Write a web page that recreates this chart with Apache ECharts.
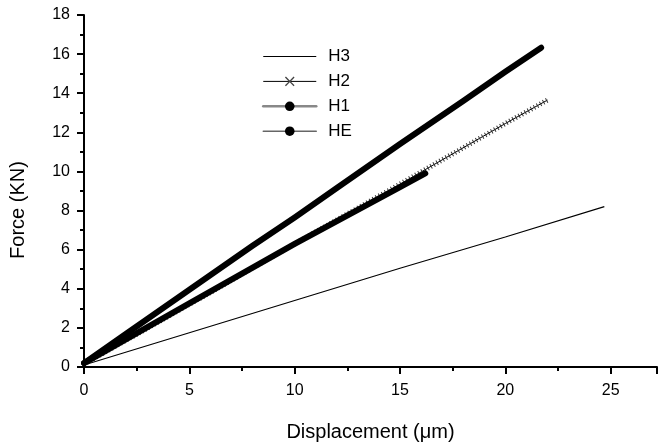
<!DOCTYPE html>
<html>
<head>
<meta charset="utf-8">
<script src="https://cdn.jsdelivr.net/npm/echarts@6/dist/echarts.min.js"></script>
<style>html,body{margin:0;padding:0;background:#fff}#c{width:658px;height:447px}</style>
</head>
<body>
<div id="c"></div>
<script>
// Values: [displacement (µm), force (KN)]
const seriesNames = ['H3', 'H2', 'H1', 'HE'];
const h3 = [[0, 0.1], [5, 1.75], [10, 3.4], [15, 5.05], [20, 6.65], [24.7, 8.2]];
const h2 = [[0, 0.15], [5, 3.2], [10, 6.3], [15, 9.35], [20, 12.45], [22, 13.65]];
const h1 = [[0, 0.2], [2, 1.7], [5, 3.95], [8, 6.2], [10, 7.65], [12, 9.15], [15, 11.4], [18, 13.6], [20, 15.1], [21.7, 16.33]];
const he = [[0, 0.2], [5, 3.25], [10, 6.3], [15, 9.2], [16.2, 9.9]];
const xTicks = [0, 5, 10, 15, 20, 25];
const yTicks = [0, 2, 4, 6, 8, 10, 12, 14, 16, 18];

const FONT = '"Liberation Sans", Arial, sans-serif';
const crossPath = 'path://M0,1L1,0L5,4L9,0L10,1L6,5L10,9L9,10L5,6L1,10L0,9L4,5Z';

const chart = echarts.init(document.getElementById('c'), null, {renderer: 'canvas'});
chart.setOption({
  animation: false,
  backgroundColor: '#fff',
  grid: {left: 84, right: 1, top: 15, bottom: 78, containLabel: false},
  legend: {
    orient: 'vertical',
    left: 262,
    top: 48,
    padding: 0,
    itemWidth: 53,
    itemHeight: 12,
    itemGap: 7.9,
    textStyle: {fontFamily: FONT, fontSize: 17, color: '#000', padding: [0, 0, 0, 7]},
    data: [
      {name: 'H3', itemStyle: {color: 'rgba(0,0,0,0)', borderWidth: 0, opacity: 0}, lineStyle: {color: '#000', width: 1}},
      {name: 'H2', lineStyle: {color: '#000', width: 1}, itemStyle: {color: '#444'}},
      {name: 'H1', lineStyle: {color: '#888', width: 2.5}},
      {name: 'HE', lineStyle: {color: '#666', width: 1.5}}
    ]
  },
  xAxis: {
    type: 'value',
    min: 0,
    max: 27.2,
    interval: 5,
    name: 'Displacement (\u03bcm)',
    nameLocation: 'middle',
    nameGap: 55,
    nameTextStyle: {fontFamily: FONT, fontSize: 20, color: '#000'},
    axisLine: {onZero: false, lineStyle: {color: '#000', width: 2}},
    axisTick: {inside: false, length: 7, lineStyle: {color: '#000', width: 2}},
    minorTick: {show: true, splitNumber: 2, length: 4, lineStyle: {color: '#000', width: 2}},
    splitLine: {show: false},
    axisLabel: {fontFamily: FONT, fontSize: 16, color: '#000', margin: 16, showMaxLabel: false,
      formatter: v => xTicks.includes(v) ? String(v) : ''}
  },
  yAxis: {
    type: 'value',
    min: 0,
    max: 18,
    interval: 2,
    name: 'Force (KN)',
    nameLocation: 'middle',
    nameGap: 56,
    nameTextStyle: {fontFamily: FONT, fontSize: 20, color: '#000', padding: [0, 38, 0, 0]},
    axisLine: {onZero: false, lineStyle: {color: '#000', width: 2}},
    axisTick: {inside: false, length: 7, lineStyle: {color: '#000', width: 2}},
    minorTick: {show: true, splitNumber: 2, length: 4, lineStyle: {color: '#000', width: 2}},
    splitLine: {show: false},
    axisLabel: {fontFamily: FONT, fontSize: 16, color: '#000', margin: 14,
      formatter: v => yTicks.includes(v) ? String(v) : ''}
  },
  series: [
    {
      name: 'H3', type: 'line', data: h3, symbol: 'none', showSymbol: false,
      lineStyle: {color: '#000', width: 1.2}, itemStyle: {color: '#000'}, z: 3
    },
    {
      name: 'H2', type: 'line', data: h2, symbol: crossPath, symbolSize: 5, showSymbol: false,
      lineStyle: {color: '#000', width: 1}, itemStyle: {color: '#333'}, z: 4
    },
    {
      name: 'H2 texture', type: 'line', data: h2, symbol: 'none', showSymbol: false,
      lineStyle: {color: '#333', width: 5, type: [1, 2.5]}, z: 4, silent: true
    },
    {
      name: 'H1', type: 'line', data: h1, symbol: 'circle', symbolSize: 7, showSymbol: false,
      lineStyle: {color: '#000', width: 6, cap: 'round', join: 'round'}, itemStyle: {color: '#000'}, z: 5
    },
    {
      name: 'HE', type: 'line', data: he, symbol: 'circle', symbolSize: 7, showSymbol: false,
      lineStyle: {color: '#000', width: 6, cap: 'round', join: 'round'}, itemStyle: {color: '#000'}, z: 6
    }
  ]
});
</script>
</body>
</html>
